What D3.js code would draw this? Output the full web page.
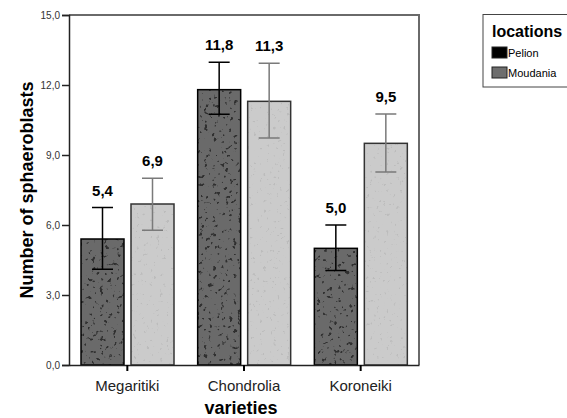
<!DOCTYPE html>
<html lang="en">
<head>
<meta charset="utf-8">
<title>Sphaeroblasts by variety</title>
<script src="https://cdn.jsdelivr.net/npm/d3@7"></script>
<style>
body { margin:0; background:#fff; }
text { font-family: Arial, "Liberation Sans", sans-serif; }
</style>
</head>
<body>
<script>
// data
var categories = ["Megaritiki", "Chondrolia", "Koroneiki"];
var locations = ["Pelion", "Moudania"];
var pelionMean = [5.4, 11.8, 5.0];
var pelionLow = [4.1, 10.75, 4.05];
var pelionHigh = [6.75, 12.97, 6.0];
var moudaniaMean = [6.9, 11.3, 9.5];
var moudaniaLow = [5.78, 9.73, 8.27];
var moudaniaHigh = [8.0, 12.93, 10.76];
var yTicks = [0, 3, 6, 9, 12, 15];

var w = 567, h = 418;
var pLeft = 69, pRight = 419, pTop = 15, pBottom = 365;

var svg = d3.select("body").append("svg")
  .attr("width", w).attr("height", h);

// speckle textures
var defs = svg.append("defs");
function speckFilter(id, freq, seed, color, k, off) {
  var f = defs.append("filter").attr("id", id)
    .attr("x", 0).attr("y", 0).attr("width", 1).attr("height", 1);
  f.append("feTurbulence").attr("type", "fractalNoise")
    .attr("baseFrequency", freq).attr("numOctaves", 2).attr("seed", seed);
  f.append("feColorMatrix").attr("type", "matrix")
    .attr("values", "0 0 0 0 " + color + " 0 0 0 0 " + color + " 0 0 0 0 " + color + " " + (-k) + " 0 0 0 " + off);
}
speckFilter("speckDark", 0.24, 4, 0.03, 10, 3.72);
speckFilter("speckLight", 0.3, 9, 0.5, 10, 3.3);

var y = d3.scaleLinear().domain([0, 15]).range([pBottom, pTop]);
var x = d3.scaleBand().domain(categories).range([pLeft, pRight]);
var xs = d3.scaleBand().domain(locations).range([12, 105]).paddingInner(0.14);

var rows = [];
categories.forEach(function (c, i) {
  rows.push({cat: c, loc: "Pelion", m: pelionMean[i], lo: pelionLow[i], hi: pelionHigh[i]});
  rows.push({cat: c, loc: "Moudania", m: moudaniaMean[i], lo: moudaniaLow[i], hi: moudaniaHigh[i]});
});
var style = {
  Pelion: {fill: "#6a6a6a", stroke: "#000", speck: "speckDark", err: "#000"},
  Moudania: {fill: "#cbcbcb", stroke: "#333", speck: "speckLight", err: "#7a7a7a"}
};

// frame top & right
svg.append("path")
  .attr("d", "M" + pLeft + "," + pTop + "H" + pRight + "V" + pBottom)
  .attr("fill", "none").attr("stroke", "#6a6a6a").attr("stroke-width", 2);

var bx = function (d) { return x(d.cat) + xs(d.loc); };
var g = svg.append("g");
g.selectAll("rect.base").data(rows).enter().append("rect")
  .attr("x", bx).attr("y", function (d) { return y(d.m); })
  .attr("width", xs.bandwidth()).attr("height", function (d) { return y(0) - y(d.m); })
  .attr("fill", function (d) { return style[d.loc].fill; });
g.selectAll("rect.speck").data(rows).enter().append("rect")
  .attr("x", bx).attr("y", function (d) { return y(d.m); })
  .attr("width", xs.bandwidth()).attr("height", function (d) { return y(0) - y(d.m); })
  .attr("fill", "#fff")
  .attr("filter", function (d) { return "url(#" + style[d.loc].speck + ")"; });
g.selectAll("rect.edge").data(rows).enter().append("rect")
  .attr("x", bx).attr("y", function (d) { return y(d.m); })
  .attr("width", xs.bandwidth()).attr("height", function (d) { return y(0) - y(d.m); })
  .attr("fill", "none").attr("stroke-width", 1.5)
  .attr("stroke", function (d) { return style[d.loc].stroke; });

// error bars
var cx = function (d) { return bx(d) + xs.bandwidth() / 2; };
svg.append("g").selectAll("path").data(rows).enter().append("path")
  .attr("d", function (d) {
    var c = cx(d), a = y(d.hi), b = y(d.lo);
    return "M" + (c - 10.5) + "," + a + "H" + (c + 10.5) + "M" + c + "," + a + "V" + b +
      "M" + (c - 10.5) + "," + b + "H" + (c + 10.5);
  })
  .attr("fill", "none").attr("stroke-width", 1.5)
  .attr("stroke", function (d) { return style[d.loc].err; });

// value labels
var comma = function (v) { return d3.format(".1f")(v).replace(".", ","); };
svg.append("g").selectAll("text").data(rows).enter().append("text")
  .attr("x", cx).attr("y", function (d) { return y(d.hi) - 12; })
  .attr("text-anchor", "middle")
  .attr("font-size", "15px").attr("font-weight", "bold")
  .text(function (d) { return comma(d.m); });

// y axis
var yAxis = svg.append("g").attr("transform", "translate(" + pLeft + ",0)")
  .call(d3.axisLeft(y).tickValues(yTicks).tickSize(7).tickPadding(2).tickFormat(comma));
yAxis.select(".domain").attr("stroke", "#222").attr("stroke-width", 1.5);
yAxis.selectAll(".tick line").attr("stroke", "#222").attr("stroke-width", 1.5);
yAxis.selectAll(".tick text").attr("font-size", "10px").attr("fill", "#333")
  .attr("font-family", "Arial, 'Liberation Sans', sans-serif");

// x axis
var xAxis = svg.append("g").attr("transform", "translate(0," + pBottom + ")")
  .call(d3.axisBottom(x).tickSize(6).tickPadding(9).tickSizeOuter(0));
xAxis.select(".domain").attr("stroke", "#222").attr("stroke-width", 1.5);
xAxis.selectAll(".tick line").attr("stroke", "#000").attr("stroke-width", 2);
xAxis.selectAll(".tick text").attr("font-size", "15px").attr("fill", "#222")
  .attr("font-family", "Arial, 'Liberation Sans', sans-serif");

// axis titles
svg.append("text").attr("x", (pLeft + pRight) / 2 - 3).attr("y", 414)
  .attr("text-anchor", "middle").attr("font-size", "18px").attr("font-weight", "bold")
  .text("varieties");
svg.append("text").attr("transform", "translate(33," + (pTop + pBottom) / 2 + ") rotate(-90)")
  .attr("text-anchor", "middle").attr("font-size", "18px").attr("font-weight", "bold")
  .text("Number of sphaeroblasts");

// legend
var lg = svg.append("g").attr("transform", "translate(483,14.5)");
lg.append("rect").attr("width", 100).attr("height", 72.5)
  .attr("fill", "#fff").attr("stroke", "#444").attr("stroke-width", 1);
lg.append("text").attr("x", 9).attr("y", 22.5).attr("font-size", "16px")
  .attr("font-weight", "bold").text("locations");
var legendFill = {Pelion: "#000", Moudania: "#6e6e6e"};
var li = lg.selectAll("g.item").data(locations).enter().append("g")
  .attr("transform", function (d, i) { return "translate(9," + (32.5 + i * 20) + ")"; });
li.append("rect").attr("width", 15).attr("height", 11)
  .attr("fill", function (d) { return legendFill[d]; }).attr("stroke", "#222");
li.append("text").attr("x", 16).attr("y", 10).attr("font-size", "11px").text(function (d) { return d; });
</script>
</body>
</html>
